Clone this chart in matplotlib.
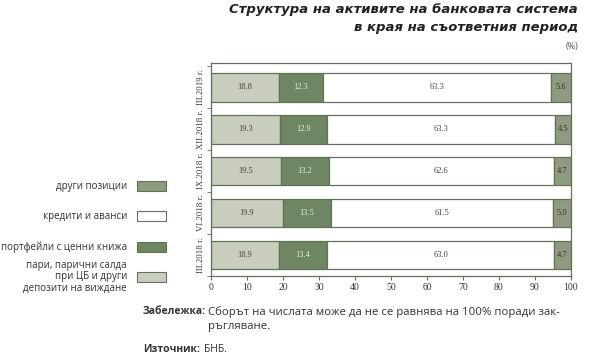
import matplotlib
matplotlib.use('Agg')
import matplotlib.pyplot as plt
import numpy as np
from matplotlib.patches import Rectangle

# данни
periods = ['III.2018 г.', 'VI.2018 г.', 'IX.2018 г.', 'XII.2018 г.', 'III.2019 г.']
cash = [18.9, 19.9, 19.5, 19.3, 18.8]
securities = [13.4, 13.5, 13.2, 12.9, 12.3]
loans = [63.0, 61.5, 62.6, 63.3, 63.3]
other = [4.7, 5.0, 4.7, 4.5, 5.6]

series_names = ['пари, парични салда\nпри ЦБ и други\nдепозити на виждане',
                'портфейли с ценни книжа', 'кредити и аванси', 'други позиции']
colors = ['#c9cdbe', '#6f8663', '#ffffff', '#8e9b80']
text_colors = ['#444444', '#e8ece0', '#444444', '#333333']
edge = '#5f7355'

W, H = 598, 363
fig = plt.figure(figsize=(W / 100, H / 100), dpi=100)
plt.rcParams['font.family'] = ['Open Sans', 'DejaVu Sans']

ax = fig.add_axes([211 / W, (H - 276) / H, 360 / W, 213 / H])

y = np.arange(len(periods))
left = np.zeros(len(periods))
for vals, col, tcol in zip([cash, securities, loans, other], colors, text_colors):
    vals = np.array(vals)
    ax.barh(y, vals, left=left, height=0.68, color=col, edgecolor=edge, linewidth=0.9)
    for yi, l, v in zip(y, left, vals):
        ax.text(l + v / 2, yi, f'{v:.1f}', ha='center', va='center', fontsize=6,
                color=tcol, family='Liberation Serif')
    left = left + vals

ax.set_xlim(0, 100)
ax.set_ylim(-0.42, 4.58)
ax.set_xticks(np.arange(0, 101, 10))
ax.set_xticklabels([str(v) for v in range(0, 101, 10)], family='Liberation Serif', fontsize=7, color='#333333')
ax.set_yticks(y)
ax.set_yticklabels(periods, rotation=90, va='center', family='Liberation Serif', fontsize=6.3, color='#333333')
ax.set_yticks(np.arange(-0.5, 4.6, 1), minor=True)
ax.tick_params(axis='y', which='major', length=0, pad=4)
ax.tick_params(axis='y', which='minor', length=3, color=edge)
ax.tick_params(axis='x', length=3, color=edge, pad=2)
for s in ax.spines.values():
    s.set_color(edge)
    s.set_linewidth(0.9)

# легенда вляво
legend_y = [277, 247, 216, 186]
for name, col, ly in zip(series_names, colors, legend_y):
    fig.patches.append(Rectangle((137 / W, (H - ly - 5) / H), 29 / W, 10 / H,
                                 transform=fig.transFigure, facecolor=col,
                                 edgecolor=edge, linewidth=0.8))
    fig.text(127 / W, (H - ly) / H, name, ha='right', va='center', fontsize=7,
             color='#333333', linespacing=1.05)

# заглавие
title_font = dict(ha='right', va='center', fontsize=9.5, fontweight='bold',
                  style='italic', family='DejaVu Sans', color='#222222')
fig.text(578 / W, (H - 10) / H, 'Структура на активите на банковата система', **title_font)
fig.text(578 / W, (H - 28) / H, 'в края на съответния период', **title_font)
fig.text(578 / W, (H - 47) / H, '(%)', ha='right', va='center', fontsize=6.5, color='#555555')

# бележки
fig.text(143 / W, (H - 312) / H, 'Забележка:', ha='left', va='center', fontsize=7.5,
         fontweight='bold', color='#333333')
fig.text(208 / W, (H - 312) / H, 'Сборът на числата може да не се равнява на 100% поради зак-',
         ha='left', va='center', fontsize=8.2, color='#333333')
fig.text(208 / W, (H - 327) / H, 'ръгляване.', ha='left', va='center', fontsize=8.2, color='#333333')
fig.text(143 / W, (H - 349) / H, 'Източник:', ha='left', va='center', fontsize=7.5,
         fontweight='bold', color='#333333')
fig.text(204 / W, (H - 349) / H, 'БНБ.', ha='left', va='center', fontsize=7.5, color='#333333')

fig.savefig('out.png', dpi=100)
